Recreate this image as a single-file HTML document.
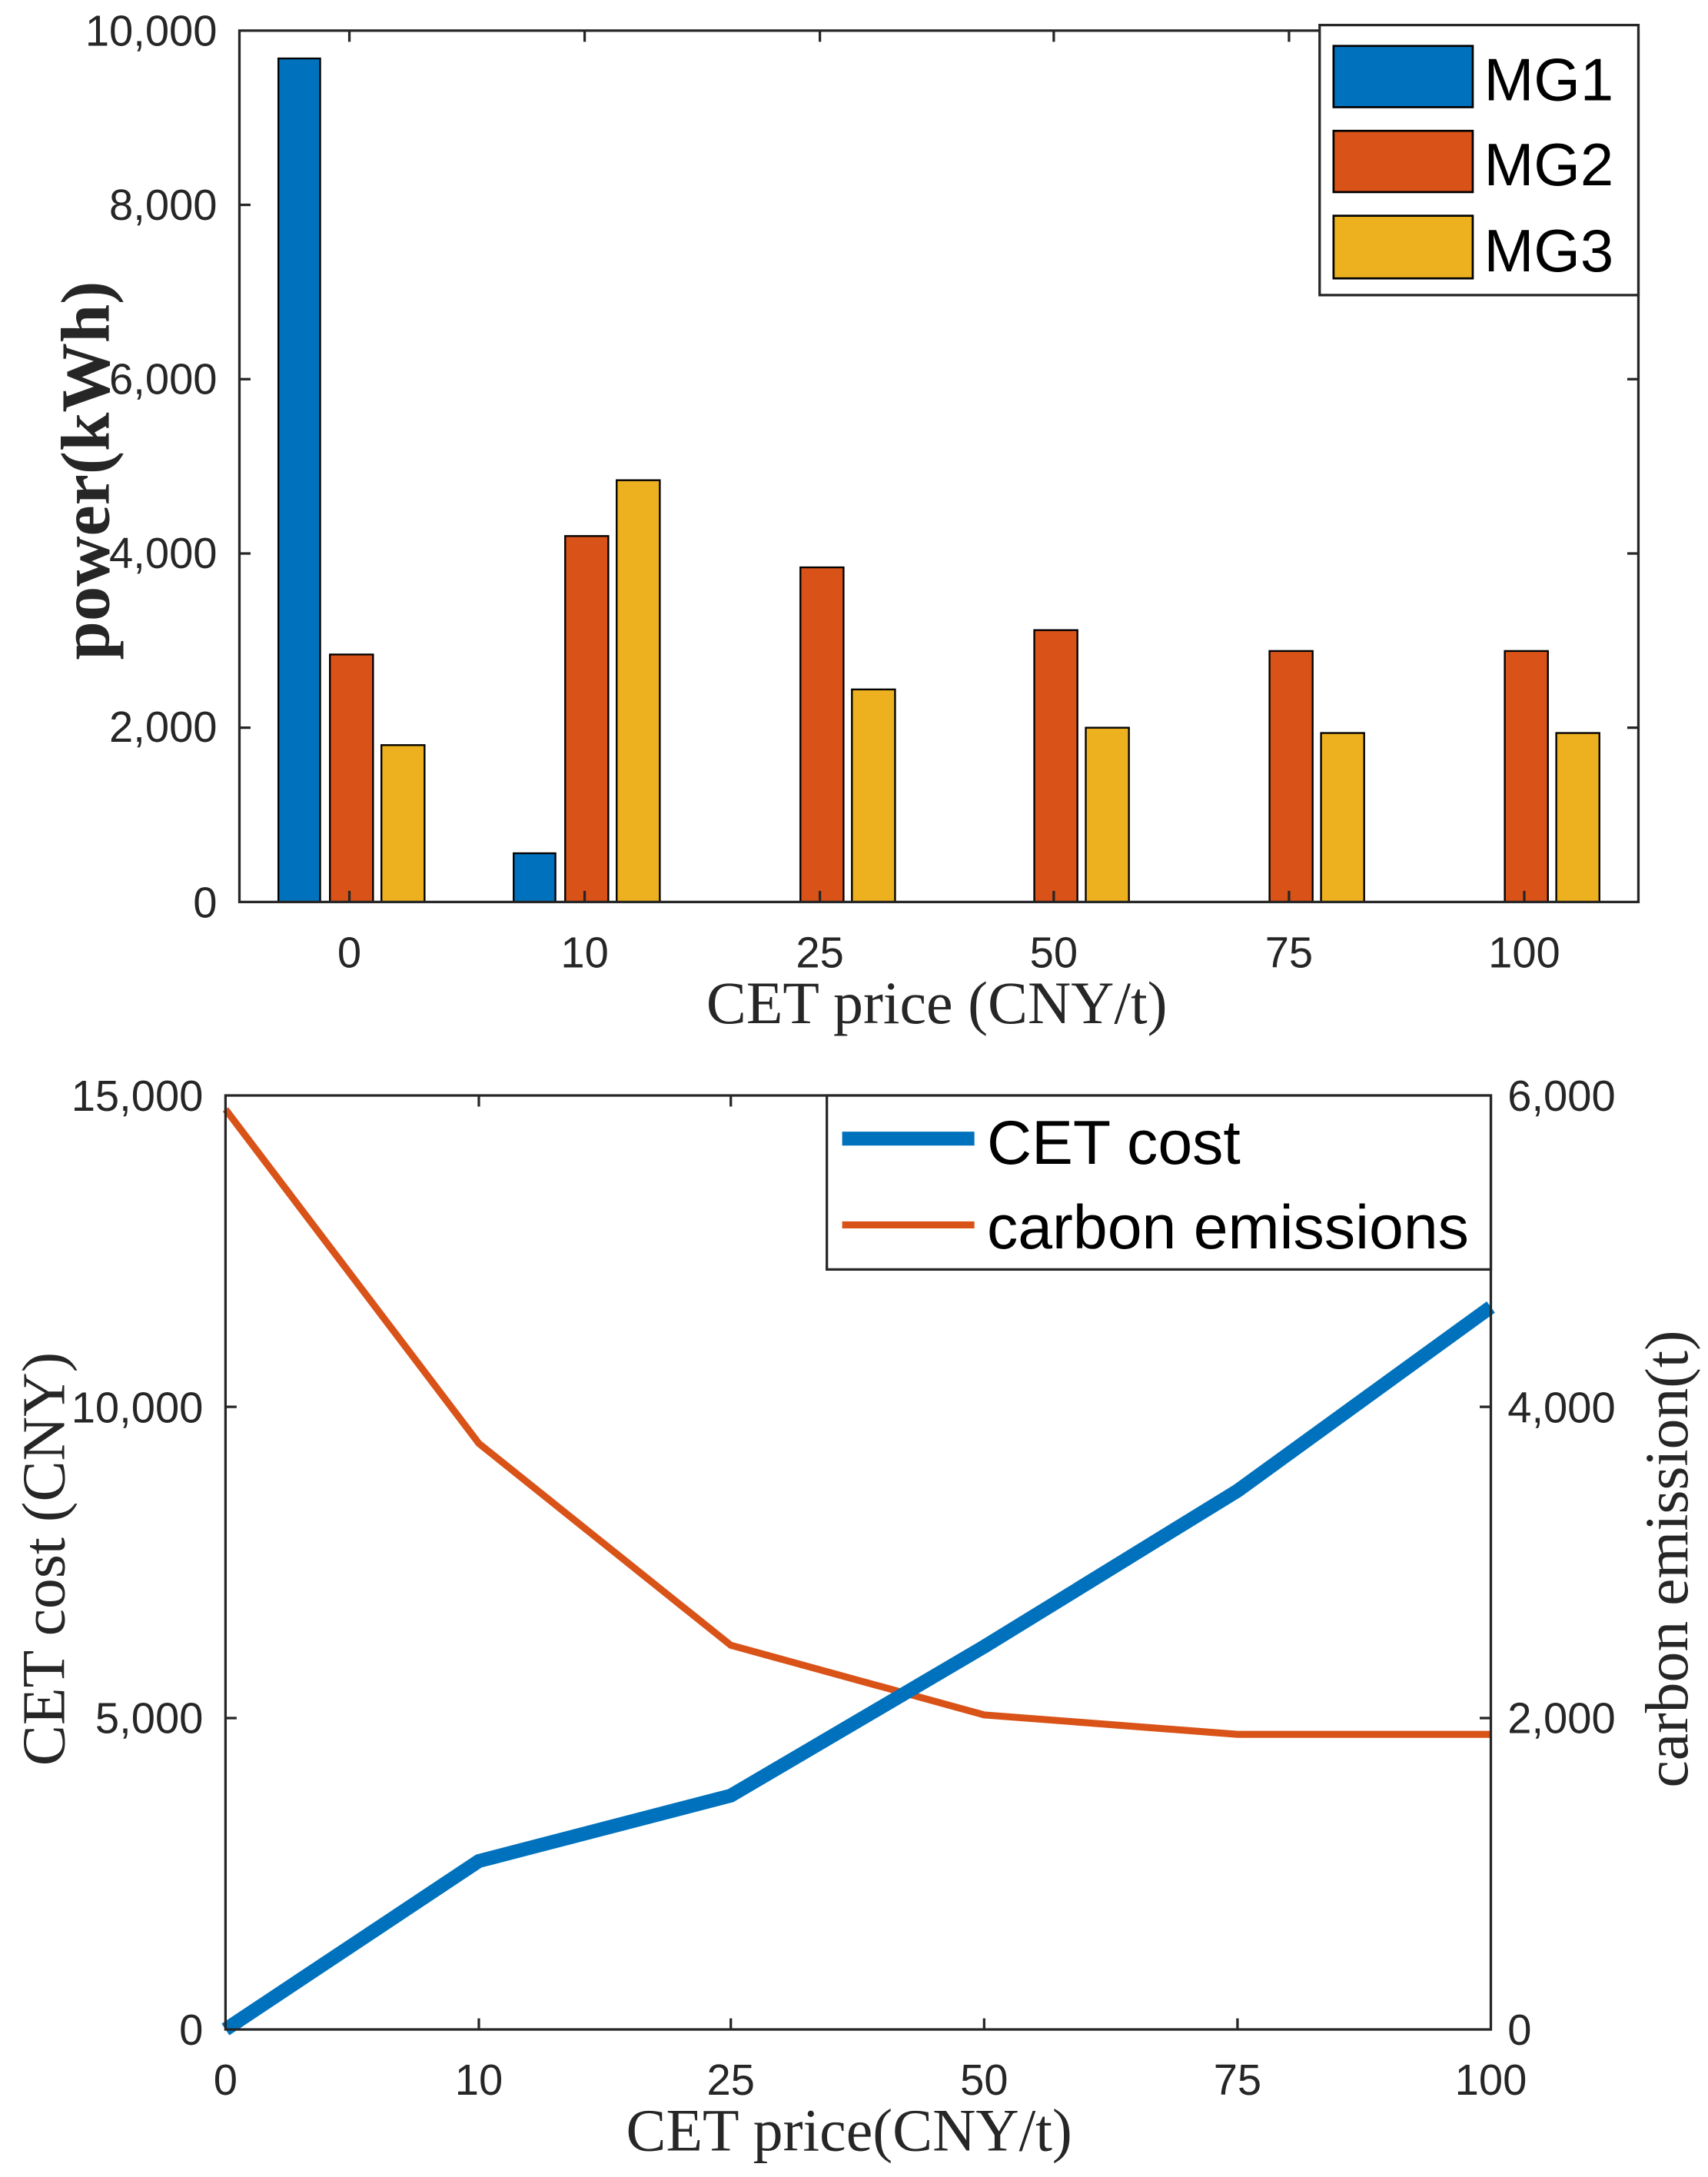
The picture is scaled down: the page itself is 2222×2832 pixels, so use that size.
<!DOCTYPE html>
<html><head><meta charset="utf-8"><style>html,body{margin:0;padding:0;background:#fff}svg{display:block}</style></head>
<body>
<svg width="2222" height="2832" viewBox="0 0 1227 1564" preserveAspectRatio="none" xmlns="http://www.w3.org/2000/svg">
<rect width="1227" height="1564" fill="#fff"/>
<g font-family="Liberation Sans, sans-serif" fill="#000">
<g stroke="#000" stroke-width="1.3">
<rect x="200" y="42.0" width="30" height="606.0" fill="#0072BD"/>
<rect x="237" y="470.2" width="31" height="177.8" fill="#D95319"/>
<rect x="274" y="535.3" width="31" height="112.7" fill="#EDB120"/>
<rect x="369" y="613.0" width="30" height="35.0" fill="#0072BD"/>
<rect x="406" y="385.1" width="31" height="262.9" fill="#D95319"/>
<rect x="443" y="345.0" width="31" height="303.0" fill="#EDB120"/>
<rect x="575" y="407.6" width="31" height="240.4" fill="#D95319"/>
<rect x="612" y="495.3" width="31" height="152.7" fill="#EDB120"/>
<rect x="743" y="452.7" width="31" height="195.3" fill="#D95319"/>
<rect x="780" y="522.8" width="31" height="125.2" fill="#EDB120"/>
<rect x="912" y="467.7" width="31" height="180.3" fill="#D95319"/>
<rect x="949" y="526.6" width="31" height="121.4" fill="#EDB120"/>
<rect x="1081" y="467.7" width="31" height="180.3" fill="#D95319"/>
<rect x="1118" y="526.6" width="31" height="121.4" fill="#EDB120"/>
</g>
<g stroke="#262626" stroke-width="1.8" fill="none">
<rect x="172" y="22" width="1005" height="626"/>
<path d="M172 147.2h8M172 272.4h8M172 397.6h8M172 522.8h8M1177 147.2h-8M1177 272.4h-8M1177 397.6h-8M1177 522.8h-8M1177 22h-8"/>
<path d="M251 22v8M420 22v8M589 22v8M757 22v8M926 22v8M1095 22v8M251 648v-8M420 648v-8M589 648v-8M757 648v-8M926 648v-8M1095 648v-8"/>
</g>
<g font-size="31" text-anchor="end" fill="#262626">
<text x="156" y="33">10,000</text><text x="156" y="158">8,000</text><text x="156" y="283">6,000</text>
<text x="156" y="408">4,000</text><text x="156" y="533">2,000</text><text x="156" y="659">0</text>
</g>
<g font-size="31" text-anchor="middle" fill="#262626">
<text x="251" y="695">0</text><text x="420" y="695">10</text><text x="589" y="695">25</text>
<text x="757" y="695">50</text><text x="926" y="695">75</text><text x="1095" y="695">100</text>
</g>
<text x="673" y="735" font-family="Liberation Serif, serif" font-size="43" text-anchor="middle" fill="#262626">CET price (CNY/t)</text>
<text transform="translate(78,338) rotate(-90)" font-family="Liberation Serif, serif" font-size="50" font-weight="bold" text-anchor="middle" fill="#262626">power(kWh)</text>
<rect x="948" y="18" width="229" height="194" fill="#fff" stroke="#262626" stroke-width="1.8"/>
<g stroke="#000" stroke-width="1.5">
<rect x="958" y="33" width="100" height="44" fill="#0072BD"/>
<rect x="958" y="94" width="100" height="44" fill="#D95319"/>
<rect x="958" y="155" width="100" height="45" fill="#EDB120"/>
</g>
<g font-size="43"><text x="1066" y="72">MG1</text><text x="1066" y="133">MG2</text><text x="1066" y="195">MG3</text></g>

<polyline fill="none" stroke="#D95319" stroke-width="5" points="162,797 344,1037 525,1182 707,1232 889,1246 1071,1246"/>
<polyline fill="none" stroke="#0072BD" stroke-width="10" points="162,1458 344,1337 525,1290 707,1183 889,1071 1071,939"/>
<g stroke="#262626" stroke-width="1.8" fill="none">
<rect x="162" y="787" width="909" height="671"/>
<path d="M162 1234.3h8M162 1010.7h8M1071 1234.3h-8M1071 1010.7h-8"/>
<path d="M344 1458v-8M525 1458v-8M707 1458v-8M889 1458v-8M344 787v8M525 787v8M707 787v8M889 787v8"/>
</g>
<g font-size="31" text-anchor="end" fill="#262626">
<text x="146" y="798">15,000</text><text x="146" y="1022">10,000</text><text x="146" y="1245">5,000</text><text x="146" y="1469">0</text>
</g>
<g font-size="31" fill="#262626">
<text x="1083" y="798">6,000</text><text x="1083" y="1022">4,000</text><text x="1083" y="1245">2,000</text><text x="1083" y="1469">0</text>
</g>
<g font-size="31" text-anchor="middle" fill="#262626">
<text x="162" y="1505">0</text><text x="344" y="1505">10</text><text x="525" y="1505">25</text>
<text x="707" y="1505">50</text><text x="889" y="1505">75</text><text x="1071" y="1505">100</text>
</g>
<text x="610" y="1545" font-family="Liberation Serif, serif" font-size="43" text-anchor="middle" fill="#262626">CET price(CNY/t)</text>
<text transform="translate(46,1120) rotate(-90)" font-family="Liberation Serif, serif" font-size="44" text-anchor="middle" fill="#262626">CET cost (CNY)</text>
<text transform="translate(1212,1120) rotate(-90)" font-family="Liberation Serif, serif" font-size="44" text-anchor="middle" fill="#262626">carbon emission(t)</text>
<rect x="594" y="787" width="477" height="125" fill="#fff" stroke="#262626" stroke-width="1.8"/>
<path d="M605 818h95" stroke="#0072BD" stroke-width="10"/>
<path d="M605 880h95" stroke="#D95319" stroke-width="5"/>
<g font-size="44.5"><text x="709" y="836">CET cost</text><text x="709" y="897">carbon emissions</text></g>
</g>
</svg>
</body></html>
